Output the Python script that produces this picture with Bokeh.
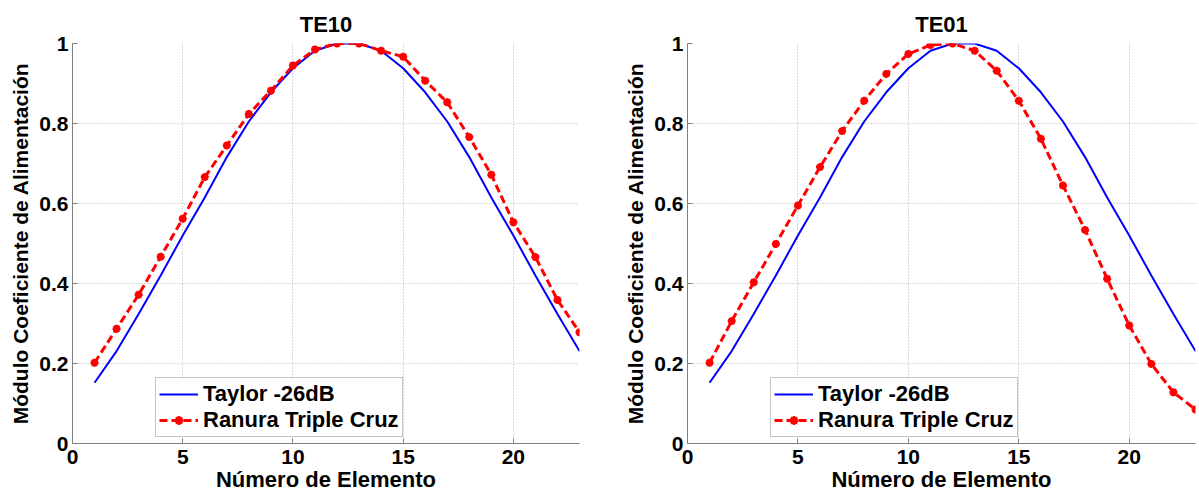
from bokeh.plotting import figure
from bokeh.layouts import row
from bokeh.models import FixedTicker, PrintfTickFormatter, Range1d
from bokeh.embed import file_html
from bokeh.resources import INLINE

elements = list(range(1, 24))
taylor = [0.152, 0.231, 0.324, 0.420, 0.520, 0.615, 0.716, 0.805, 0.878, 0.938, 0.982, 1.000,
          1.000, 0.982, 0.938, 0.878, 0.805, 0.716, 0.615, 0.520, 0.420, 0.324, 0.231]
te10 = [0.202, 0.287, 0.372, 0.467, 0.562, 0.666, 0.745, 0.824, 0.882, 0.945, 0.985, 1.000,
        1.000, 0.982, 0.967, 0.907, 0.853, 0.766, 0.672, 0.553, 0.466, 0.359, 0.278]
te01 = [0.202, 0.306, 0.403, 0.499, 0.595, 0.691, 0.781, 0.857, 0.924, 0.974, 0.996, 1.000,
        0.982, 0.932, 0.857, 0.762, 0.645, 0.534, 0.412, 0.295, 0.199, 0.128, 0.085]

titles = ["TE10", "TE01"]
x_ticks = [0, 5, 10, 15, 20]
y_ticks = [0, 0.2, 0.4, 0.6, 0.8, 1.0]

FONT = "Liberation Sans"
AX = "#808080"


def make(title, series, width, bl, br, fw):
    p = figure(width=width, height=497, frame_width=fw, frame_height=400,
               x_range=Range1d(0, 23), y_range=Range1d(0, 1),
               output_backend="svg", toolbar_location=None,
               min_border_left=bl, min_border_right=br, min_border_top=43, min_border_bottom=54,
               title=title)
    p.outline_line_color = None
    p.background_fill_color = "white"
    p.border_fill_color = "white"
    p.title.align = "center"
    p.title.text_font = FONT
    p.title.text_font_size = "22px"
    p.title.text_font_style = "bold"
    p.title.text_color = "black"
    p.title.standoff = 13

    p.line(elements, taylor, color="#0000ff", line_width=2, legend_label="Taylor -26dB")
    p.line(elements, series, color="#ff0000", line_width=3, line_dash="8 4",
           legend_label="Ranura Triple Cruz")
    p.scatter(elements, series, marker="asterisk", size=8, line_width=2.5, color="#ff0000",
              legend_label="Ranura Triple Cruz")

    p.xaxis.ticker = FixedTicker(ticks=x_ticks)
    p.yaxis.ticker = FixedTicker(ticks=y_ticks)
    p.yaxis.formatter = PrintfTickFormatter(format="%g")
    p.xaxis.axis_label = "Número de Elemento"
    p.yaxis.axis_label = "Módulo Coeficiente de Alimentación"
    for ax in (p.xaxis[0], p.yaxis[0]):
        ax.axis_line_color = AX
        ax.major_tick_line_color = AX
        ax.major_tick_in = 5
        ax.major_tick_out = 0
        ax.minor_tick_line_color = None
        ax.major_label_text_font = FONT
        ax.major_label_text_font_size = "21px"
        ax.major_label_text_font_style = "bold"
        ax.major_label_text_color = "black"
        ax.axis_label_text_font = FONT
        ax.axis_label_text_font_size = "21px"
        ax.axis_label_text_font_style = "bold"
        ax.axis_label_text_color = "black"
        ax.major_label_standoff = 4
        ax.axis_label_standoff = 4
    p.xaxis.axis_label_text_font_size = "22px"
    p.xaxis.major_label_standoff = 6
    p.xaxis.axis_label_standoff = 0

    for g in (p.xgrid[0], p.ygrid[0]):
        g.grid_line_color = "#b4b4b4"
        g.grid_line_dash = "1 2"
        g.grid_line_width = 1

    lg = p.legend[0]
    lg.location = (83, 6)
    lg.margin = 0
    lg.padding = 3
    lg.spacing = 0
    lg.glyph_width = 39
    lg.glyph_height = 22
    lg.label_height = 22
    lg.label_standoff = 5
    lg.label_text_font = FONT
    lg.label_text_font_size = "22px"
    lg.label_text_font_style = "bold"
    lg.label_text_color = "black"
    lg.border_line_color = "#8c8c8c"
    lg.border_line_width = 1
    lg.background_fill_alpha = 1
    return p


p1 = make(titles[0], te10, 600, 72, 21, 507)
p2 = make(titles[1], te01, 599, 87, 4, 508)
layout = row(p1, p2)

open("out.html", "w").write(file_html(layout, INLINE))
